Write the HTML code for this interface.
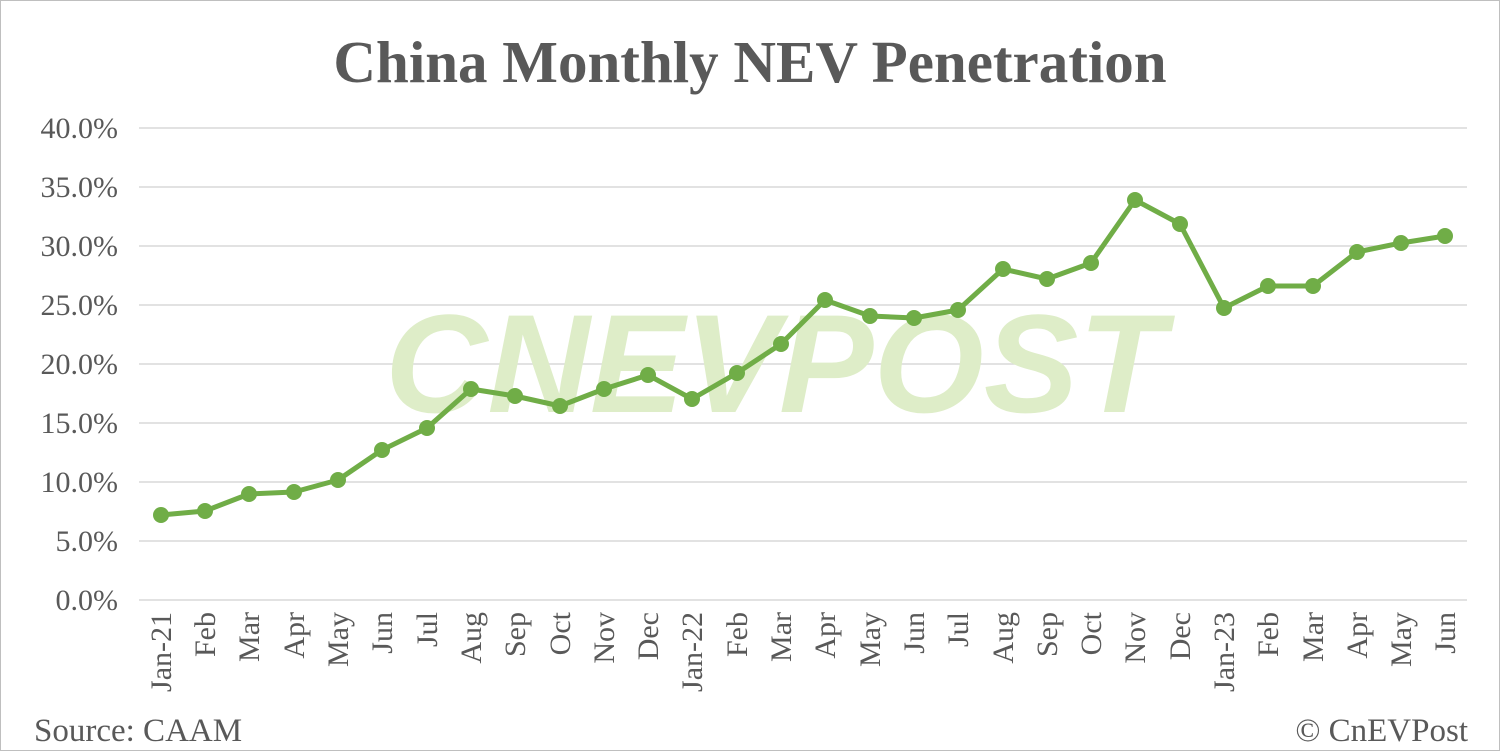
<!DOCTYPE html>
<html><head><meta charset="utf-8"><style>
body{margin:0;background:#fff}
svg{display:block}
text{font-family:"Liberation Serif",serif;fill:#595959}
</style></head><body>
<svg width="1500" height="751" viewBox="0 0 1500 751">
<rect x="0.5" y="0.5" width="1499" height="750" fill="#fff" stroke="#bfbfbf"/>
<text x="750" y="82" text-anchor="middle" font-size="59" font-weight="bold">China Monthly NEV Penetration</text>
<g stroke="#d9d9d9" stroke-width="1.5">
<line x1="139" x2="1467" y1="128" y2="128"/><line x1="139" x2="1467" y1="187" y2="187"/>
<line x1="139" x2="1467" y1="246" y2="246"/><line x1="139" x2="1467" y1="305" y2="305"/>
<line x1="139" x2="1467" y1="364" y2="364"/><line x1="139" x2="1467" y1="423" y2="423"/>
<line x1="139" x2="1467" y1="482" y2="482"/><line x1="139" x2="1467" y1="541" y2="541"/>
<line x1="139" x2="1467" y1="600" y2="600"/>
</g>
<text x="775" y="412" text-anchor="middle" font-size="140" font-weight="bold" font-style="italic" style="font-family:'Liberation Sans',sans-serif;fill:#deedc8" textLength="780" lengthAdjust="spacingAndGlyphs">CNEVPOST</text>
<g font-size="30" text-anchor="end">
<text x="118" y="138">40.0%</text><text x="118" y="197">35.0%</text><text x="118" y="256">30.0%</text>
<text x="118" y="315">25.0%</text><text x="118" y="374">20.0%</text><text x="118" y="433">15.0%</text>
<text x="118" y="492">10.0%</text><text x="118" y="551">5.0%</text><text x="118" y="610">0.0%</text>
</g>
<polyline fill="none" stroke="#70ad47" stroke-width="5" stroke-linejoin="round" points="161,515 205,511 249,494 294,492 338,480 382,450 427,428 471,389 515,396 560,406 604,389 648,375 692,399 737,373 781,344 825,300 870,316 914,318 958,310 1003,269 1047,279 1091,263 1135,200 1180,224 1224,308 1268,286 1313,286 1357,252 1401,243 1445,236"/>
<g fill="#70ad47">
<circle cx="161" cy="515" r="8"/><circle cx="205" cy="511" r="8"/><circle cx="249" cy="494" r="8"/><circle cx="294" cy="492" r="8"/><circle cx="338" cy="480" r="8"/><circle cx="382" cy="450" r="8"/><circle cx="427" cy="428" r="8"/><circle cx="471" cy="389" r="8"/><circle cx="515" cy="396" r="8"/><circle cx="560" cy="406" r="8"/><circle cx="604" cy="389" r="8"/><circle cx="648" cy="375" r="8"/><circle cx="692" cy="399" r="8"/><circle cx="737" cy="373" r="8"/><circle cx="781" cy="344" r="8"/><circle cx="825" cy="300" r="8"/><circle cx="870" cy="316" r="8"/><circle cx="914" cy="318" r="8"/><circle cx="958" cy="310" r="8"/><circle cx="1003" cy="269" r="8"/><circle cx="1047" cy="279" r="8"/><circle cx="1091" cy="263" r="8"/><circle cx="1135" cy="200" r="8"/><circle cx="1180" cy="224" r="8"/><circle cx="1224" cy="308" r="8"/><circle cx="1268" cy="286" r="8"/><circle cx="1313" cy="286" r="8"/><circle cx="1357" cy="252" r="8"/><circle cx="1401" cy="243" r="8"/><circle cx="1445" cy="236" r="8"/>
</g>
<g font-size="30" text-anchor="end">
<text transform="translate(171,612) rotate(-90)">Jan-21</text>
<text transform="translate(215,612) rotate(-90)">Feb</text>
<text transform="translate(259,612) rotate(-90)">Mar</text>
<text transform="translate(304,612) rotate(-90)">Apr</text>
<text transform="translate(348,612) rotate(-90)">May</text>
<text transform="translate(392,612) rotate(-90)">Jun</text>
<text transform="translate(437,612) rotate(-90)">Jul</text>
<text transform="translate(481,612) rotate(-90)">Aug</text>
<text transform="translate(525,612) rotate(-90)">Sep</text>
<text transform="translate(570,612) rotate(-90)">Oct</text>
<text transform="translate(614,612) rotate(-90)">Nov</text>
<text transform="translate(658,612) rotate(-90)">Dec</text>
<text transform="translate(702,612) rotate(-90)">Jan-22</text>
<text transform="translate(747,612) rotate(-90)">Feb</text>
<text transform="translate(791,612) rotate(-90)">Mar</text>
<text transform="translate(835,612) rotate(-90)">Apr</text>
<text transform="translate(880,612) rotate(-90)">May</text>
<text transform="translate(924,612) rotate(-90)">Jun</text>
<text transform="translate(968,612) rotate(-90)">Jul</text>
<text transform="translate(1013,612) rotate(-90)">Aug</text>
<text transform="translate(1057,612) rotate(-90)">Sep</text>
<text transform="translate(1101,612) rotate(-90)">Oct</text>
<text transform="translate(1145,612) rotate(-90)">Nov</text>
<text transform="translate(1190,612) rotate(-90)">Dec</text>
<text transform="translate(1234,612) rotate(-90)">Jan-23</text>
<text transform="translate(1278,612) rotate(-90)">Feb</text>
<text transform="translate(1323,612) rotate(-90)">Mar</text>
<text transform="translate(1367,612) rotate(-90)">Apr</text>
<text transform="translate(1411,612) rotate(-90)">May</text>
<text transform="translate(1455,612) rotate(-90)">Jun</text>
</g>
<text x="34" y="741" font-size="33">Source: CAAM</text>
<text x="1468" y="741" font-size="33" text-anchor="end">© CnEVPost</text>
</svg>
</body></html>
